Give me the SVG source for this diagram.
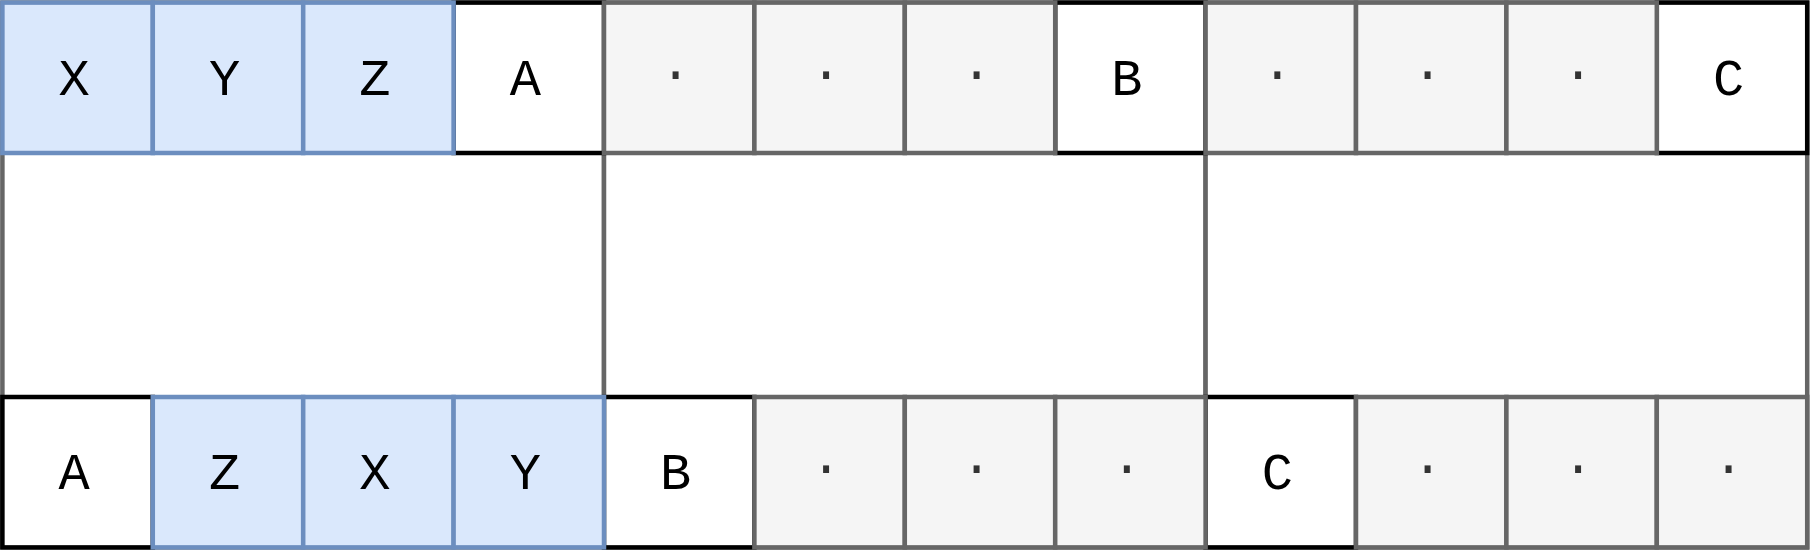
<svg xmlns="http://www.w3.org/2000/svg" width="1810" height="550" viewBox="0 0 1810 550">
<style>
.big{fill:#ffffff;stroke:#666666;stroke-width:4.5}
.w{fill:#ffffff;stroke:#000000;stroke-width:4.5}
.g{fill:#f5f5f5;stroke:#666666;stroke-width:4.5}
.b{fill:#dae8fc;stroke:#6c8ebf;stroke-width:4.5}
text{font-family:"Courier New","Liberation Mono",monospace;font-size:52px;text-anchor:middle;fill:#000000}
text.d{fill:#333333}
</style>
<rect width="1810" height="550" fill="#ffffff"/>
<g id="frames">
<rect class="big" x="2.4" y="2.6" width="601.6" height="544.8"/>
<rect class="big" x="604" y="2.6" width="601.6" height="544.8"/>
<rect class="big" x="1205.6" y="2.6" width="601.6" height="544.8"/>
</g>
<g id="connectors"></g>
<g id="top-A"><rect class="w" x="453.6" y="2.6" width="150.4" height="150.4"/><text x="525.3" y="95">A</text></g>
<g id="top-B"><rect class="w" x="1055.2" y="2.6" width="150.4" height="150.4"/><text x="1126.9" y="95">B</text></g>
<g id="top-C"><rect class="w" x="1656.8" y="2.6" width="150.4" height="150.4"/><text x="1728.5" y="95">C</text></g>
<g id="bot-A"><rect class="w" x="2.4" y="397" width="150.4" height="150.4"/><text x="74.1" y="489.4">A</text></g>
<g id="bot-B"><rect class="w" x="604" y="397" width="150.4" height="150.4"/><text x="675.7" y="489.4">B</text></g>
<g id="bot-C"><rect class="w" x="1205.6" y="397" width="150.4" height="150.4"/><text x="1277.3" y="489.4">C</text></g>
<g id="top-X"><rect class="b" x="2.4" y="2.6" width="150.4" height="150.4"/><text x="74.1" y="95">X</text></g>
<g id="top-Y"><rect class="b" x="152.8" y="2.6" width="150.4" height="150.4"/><text x="224.5" y="95">Y</text></g>
<g id="top-Z"><rect class="b" x="303.2" y="2.6" width="150.4" height="150.4"/><text x="374.9" y="95">Z</text></g>
<g id="top-d1"><rect class="g" x="604" y="2.6" width="150.4" height="150.4"/><text class="d" x="675.7" y="90">·</text></g>
<g id="top-d2"><rect class="g" x="754.4" y="2.6" width="150.4" height="150.4"/><text class="d" x="826.1" y="90">·</text></g>
<g id="top-d3"><rect class="g" x="904.8" y="2.6" width="150.4" height="150.4"/><text class="d" x="976.5" y="90">·</text></g>
<g id="top-d4"><rect class="g" x="1205.6" y="2.6" width="150.4" height="150.4"/><text class="d" x="1277.3" y="90">·</text></g>
<g id="top-d5"><rect class="g" x="1356" y="2.6" width="150.4" height="150.4"/><text class="d" x="1427.7" y="90">·</text></g>
<g id="top-d6"><rect class="g" x="1506.4" y="2.6" width="150.4" height="150.4"/><text class="d" x="1578.1" y="90">·</text></g>
<g id="bot-Z"><rect class="b" x="152.8" y="397" width="150.4" height="150.4"/><text x="224.5" y="489.4">Z</text></g>
<g id="bot-X"><rect class="b" x="303.2" y="397" width="150.4" height="150.4"/><text x="374.9" y="489.4">X</text></g>
<g id="bot-Y"><rect class="b" x="453.6" y="397" width="150.4" height="150.4"/><text x="525.3" y="489.4">Y</text></g>
<g id="bot-d1"><rect class="g" x="754.4" y="397" width="150.4" height="150.4"/><text class="d" x="826.1" y="484.4">·</text></g>
<g id="bot-d2"><rect class="g" x="904.8" y="397" width="150.4" height="150.4"/><text class="d" x="976.5" y="484.4">·</text></g>
<g id="bot-d3"><rect class="g" x="1055.2" y="397" width="150.4" height="150.4"/><text class="d" x="1126.9" y="484.4">·</text></g>
<g id="bot-d4"><rect class="g" x="1356" y="397" width="150.4" height="150.4"/><text class="d" x="1427.7" y="484.4">·</text></g>
<g id="bot-d5"><rect class="g" x="1506.4" y="397" width="150.4" height="150.4"/><text class="d" x="1578.1" y="484.4">·</text></g>
<g id="bot-d6"><rect class="g" x="1656.8" y="397" width="150.4" height="150.4"/><text class="d" x="1728.5" y="484.4">·</text></g>
</svg>
